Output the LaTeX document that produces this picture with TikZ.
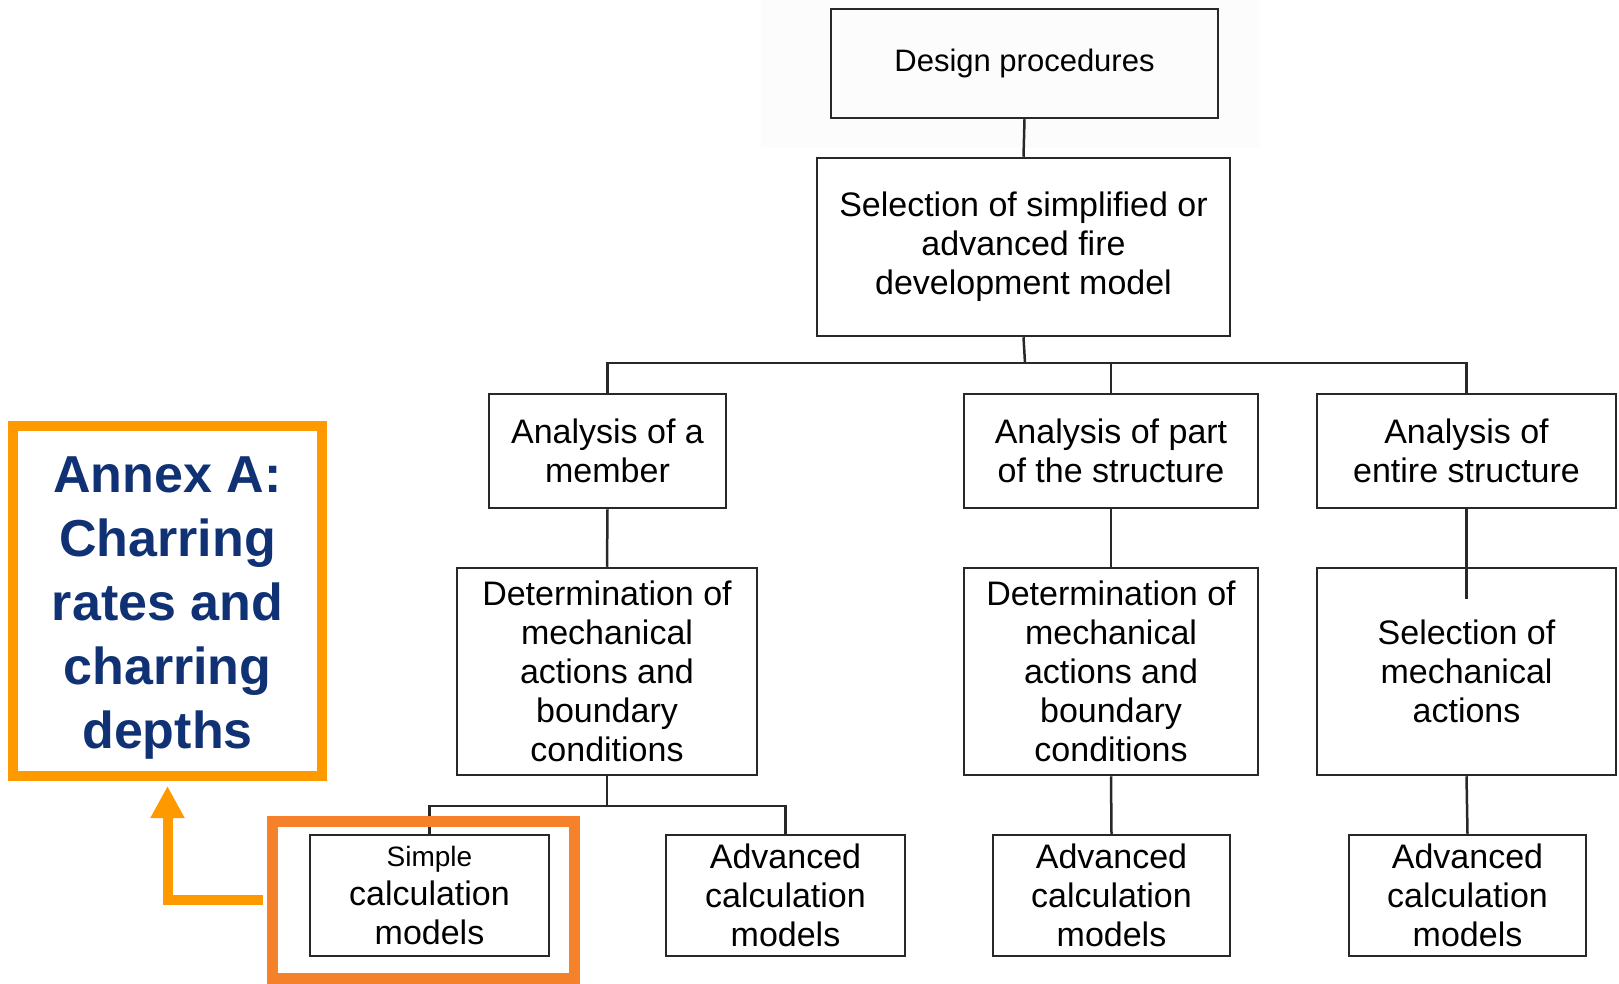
\documentclass[tikz,border=0pt]{standalone}
\usepackage{fontspec}
\setmainfont{Liberation Sans}
\usetikzlibrary{arrows.meta}
\definecolor{boxline}{RGB}{40,40,40}
\definecolor{annexorange}{RGB}{255,153,0}
\definecolor{markorange}{RGB}{245,130,42}
\definecolor{annexblue}{RGB}{16,50,116}
\tikzset{
	flowbox/.style={draw=boxline,line width=2.5pt,align=center,inner sep=0pt,font=\fontsize{34}{39}\selectfont},
	link/.style={draw=boxline,line width=2.5pt},
}

\begin{document}
\begin{tikzpicture}[x=1pt,y=-1pt]
	\useasboundingbox (0,0) rectangle (1619,984);
	\fill[black!1] (761,0) rectangle (1260,148);
	\node[flowbox,minimum width=387pt,minimum height=109pt,font=\fontsize{31}{37}\selectfont] (design) at (1024.5,63.5) {Design procedures};
	\node[flowbox,minimum width=413pt,minimum height=178pt] (select) at (1023.5,247) {Selection of simplified or\\advanced fire\\development model};
	\node[flowbox,minimum width=237pt,minimum height=114pt] (member) at (607.5,451) {Analysis of a\\member};
	\node[flowbox,minimum width=294pt,minimum height=114pt] (part) at (1111,451) {Analysis of part\\of the structure};
	\node[flowbox,minimum width=299pt,minimum height=114pt] (entire) at (1466.5,451) {Analysis of\\entire structure};
	\node[flowbox,minimum width=300pt,minimum height=207pt] (detmem) at (607,671.5) {Determination of\\mechanical\\actions and\\boundary\\conditions};
	\node[flowbox,minimum width=294pt,minimum height=207pt] (detpart) at (1111,671.5) {Determination of\\mechanical\\actions and\\boundary\\conditions};
	\node[flowbox,minimum width=299pt,minimum height=207pt] (selmech) at (1466.5,671.5) {Selection of\\mechanical\\actions};
	\node[flowbox,minimum width=239pt,minimum height=121pt] (simple) at (429.5,895.5) {{\fontsize{28}{33}\selectfont Simple}\\calculation\\models};
	\node[flowbox,minimum width=239pt,minimum height=121pt] (adv1) at (785.5,895.5) {Advanced\\calculation\\models};
	\node[flowbox,minimum width=237pt,minimum height=121pt] (adv2) at (1111.5,895.5) {Advanced\\calculation\\models};
	\node[flowbox,minimum width=237pt,minimum height=121pt] (adv3) at (1467.5,895.5) {Advanced\\calculation\\models};
	\coordinate (bus) at (1025,363);
	\coordinate (fork) at (607,806);
	\coordinate (cut) at (1466.5,599);
	\draw[link] (design.south) -- (select.north);
	\draw[link] (select.south) -- (bus);
	\draw[link] (member.north) |- (entire.north |- bus) -- (entire.north);
	\draw[link] (part.north) -- (part.north |- bus);
	\draw[link] (member.south) -- (detmem.north);
	\draw[link] (part.south) -- (detpart.north);
	\draw[link] (entire.south) -- (cut);
	\draw[link] (detmem.south) -- (fork);
	\draw[link] (simple.north) |- (adv1.north |- fork) -- (adv1.north);
	\draw[link] (detpart.south) -- (adv2.north);
	\draw[link] (selmech.south) -- (adv3.north);
	\node[draw=annexorange,line width=10pt,minimum width=309pt,minimum height=350pt,inner sep=0pt] (annex) at (167.5,601) {};
	\node[align=center,text=annexblue,font=\bfseries\fontsize{52}{64}\selectfont] (annextxt) at (167.5,608) {Annex A:\\Charring\\rates and\\charring\\depths};
	\node[draw=markorange,line width=11pt,minimum width=302pt,minimum height=157pt,inner sep=0pt] (mark) at (423.5,900) {};
	\draw[annexorange,line width=10pt,-{Triangle[width=32pt,length=32pt]},shorten <=4pt,shorten >=5pt] (mark.west) -| (annex.south);
\end{tikzpicture}
\end{document}
